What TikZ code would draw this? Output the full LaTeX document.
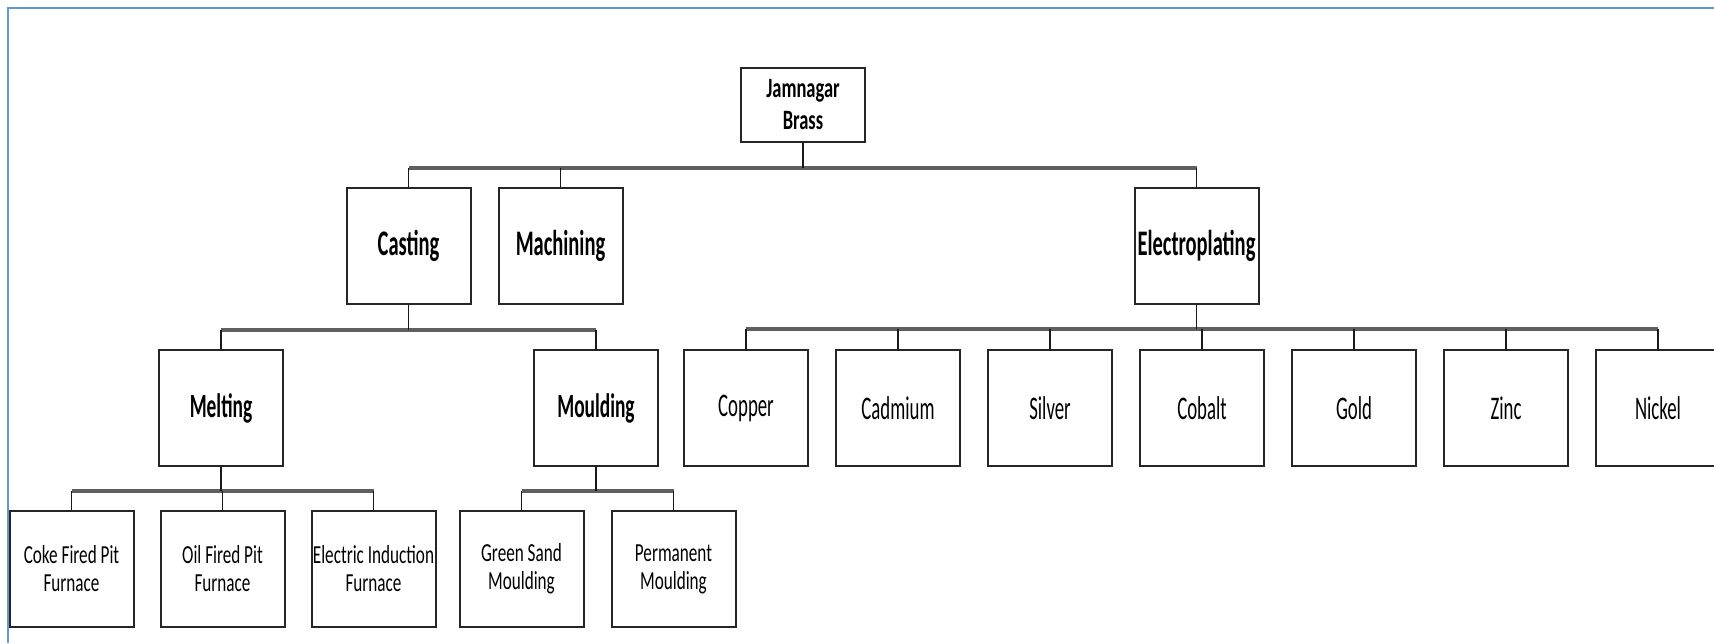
\documentclass[tikz,border=0pt]{standalone}
\usepackage{fontspec}
\setmainfont{Carlito}
\newfontfamily\narrowfont[FakeStretch=0.57]{Carlito}
\newfontfamily\lowfont[FakeStretch=0.66]{Carlito}
\definecolor{framblue}{RGB}{91,155,213}
\definecolor{busgray}{RGB}{95,95,95}
\usetikzlibrary{calc}
\usetikzlibrary{positioning}
\tikzset{x=1pt, y=1pt,
  node distance=26pt, % gap between sibling boxes
  every node/.style={align=center},
  box/.style={ % every box of the chart
    draw=black!85, line width=2pt, fill=white,
    minimum width=124pt, minimum height=116pt, inner sep=1pt},
  stem/.style={line width=1.3pt, draw=black!90}, % thin drops to the boxes
  bus/.style={line width=3.5pt, draw=busgray}}  % thick horizontal bars
\newcommand{\rootfont}{\lowfont\bfseries\fontsize{28}{32}\selectfont}
\newcommand{\mainfont}{\narrowfont\bfseries\fontsize{36}{40}\selectfont}
\newcommand{\subfont}{\narrowfont\bfseries\fontsize{34}{40}\selectfont}
\newcommand{\metalfont}{\narrowfont\fontsize{33}{38}\selectfont}
\newcommand{\leaffont}{\lowfont\fontsize{26}{28}\selectfont}
\begin{document}
\begin{tikzpicture}
  \useasboundingbox (0,0) rectangle (1714,-643);
  \draw [framblue, line width=2pt] (1714,-8) -- (8,-8) -- (8,-643);

  % top
  \node [box, minimum height=74pt, font=\rootfont] (jb) at (803,-105) {Jamnagar\\ Brass};

  % processes
  \node [box, font=\mainfont] (cast) at (408.5,-246) {Casting};
  \node [box, font=\mainfont, right=of cast] (mach) {Machining};
  \node [box, font=\mainfont] (elec) at (1196.5,-246) {Electroplating};

  % casting steps
  \node [box, font=\subfont] (melt) at (221,-408) {Melting};
  \node [box, font=\subfont] (mould) at (596,-408) {Moulding};

  % plating metals
  \node [box, font=\metalfont] (cu) at (746,-408) {Copper};
  \node [box, font=\metalfont, right=of cu] (cd) {Cadmium};
  \node [box, font=\metalfont, right=of cd] (ag) {Silver};
  \node [box, font=\metalfont, right=of ag] (co) {Cobalt};
  \node [box, font=\metalfont, right=of co] (au) {Gold};
  \node [box, font=\metalfont, right=of au] (zn) {Zinc};
  \node [box, font=\metalfont, right=of zn] (ni) {Nickel};

  % furnaces and moulds
  \node [box, font=\leaffont] (coke) at (71.5,-569) {Coke Fired Pit\\ Furnace};
  \node [box, font=\leaffont, right=25pt of coke] (oil) {Oil Fired Pit\\ Furnace};
  \node [box, font=\leaffont, right=25pt of oil] (induc) {Electric Induction\\ Furnace};
  \node [box, font=\leaffont] (green) at (521.5,-569) {Green Sand\\ Moulding};
  \node [box, font=\leaffont, right=of green] (perm) {Permanent\\ Moulding};

  % bar heights
  \coordinate (bjb) at ($(jb.south)+(0,-25)$);
  \coordinate (bcast) at ($(cast.south)+(0,-25)$);
  \coordinate (belec) at ($(elec.south)+(0,-24)$);
  \coordinate (bmelt) at ($(melt.south)+(0,-24)$);
  \coordinate (bmould) at ($(mould.south)+(0,-24)$);

  % bars
  \draw [bus] (cast.north |- bjb) -- (elec.north |- bjb);
  \draw [bus] (melt.north |- bcast) -- (mould.north |- bcast);
  \draw [bus] (cu.north |- belec) -- (ni.north |- belec);
  \draw [bus] (coke.north |- bmelt) -- (induc.north |- bmelt);
  \draw [bus] (green.north |- bmould) -- (perm.north |- bmould);

  % drops
  \draw [stem] (jb.south) -- (bjb);
  \foreach \c in {cast,mach,elec} \draw [stem] (\c.north) -- (\c.north |- bjb);
  \draw [stem] (cast.south) -- (bcast);
  \foreach \c in {melt,mould} \draw [stem] (\c.north) -- (\c.north |- bcast);
  \draw [stem] (elec.south) -- (belec);
  \foreach \c in {cu,cd,ag,co,au,zn,ni} \draw [stem] (\c.north) -- (\c.north |- belec);
  \draw [stem] (melt.south) -- (bmelt);
  \foreach \c in {coke,oil,induc} \draw [stem] (\c.north) -- (\c.north |- bmelt);
  \draw [stem] (mould.south) -- (bmould);
  \foreach \c in {green,perm} \draw [stem] (\c.north) -- (\c.north |- bmould);
\end{tikzpicture}
\end{document}
